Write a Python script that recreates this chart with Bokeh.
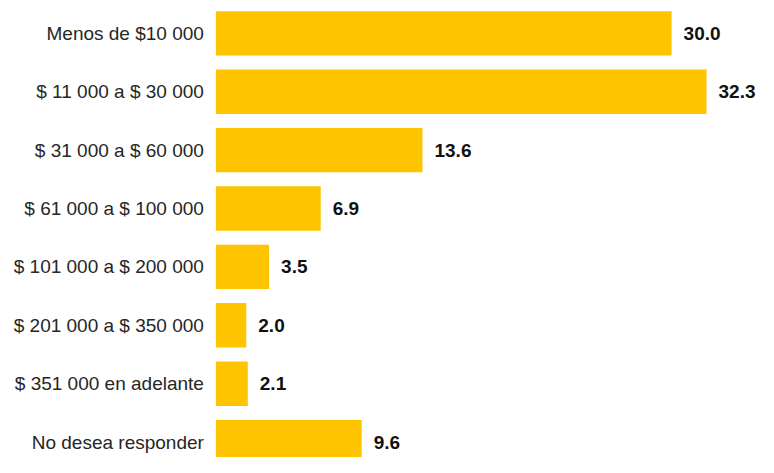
from bokeh.plotting import figure
from bokeh.models import ColumnDataSource, Range1d
from bokeh.core.properties import value
from bokeh.embed import file_html
from bokeh.resources import INLINE

categories = [
    "Menos de $10 000",
    "$ 11 000 a $ 30 000",
    "$ 31 000 a $ 60 000",
    "$ 61 000 a $ 100 000",
    "$ 101 000 a $ 200 000",
    "$ 201 000 a $ 350 000",
    "$ 351 000 en adelante",
    "No desea responder",
]
values = [30.0, 32.3, 13.6, 6.9, 3.5, 2.0, 2.1, 9.6]
value_labels = ["30.0", "32.3", "13.6", "6.9", "3.5", "2.0", "2.1", "9.6"]

ypos = list(range(len(categories)))
src = ColumnDataSource(dict(y=ypos, v=values, cat=categories, lab=value_labels,
                            zero=[0] * len(values)))

W, H = 758, 457
px_per_unit = 15.19
x0_px = 215.4
pitch = 58.39
top_px = 32.85

p = figure(width=W, height=H, output_backend="svg", toolbar_location=None,
           x_range=Range1d(-x0_px / px_per_unit, (W - x0_px) / px_per_unit),
           y_range=Range1d((H - top_px) / pitch, -top_px / pitch),
           min_border=0, outline_line_color=None)
p.axis.visible = False
p.grid.visible = False
p.background_fill_color = "white"
p.border_fill_color = "white"

p.hbar(y="y", left=0, right="v", height=0.76, source=src,
       fill_color="#FFC400", line_color=None)

p.text(x="zero", y="y", text="cat", source=src, x_offset=-12,
       text_align="right", text_baseline="middle",
       text_font=value("Liberation Sans"), text_font_size="19px",
       text_color="#262626")

p.text(x="v", y="y", text="lab", source=src, x_offset=12,
       text_align="left", text_baseline="middle",
       text_font=value("Liberation Sans"), text_font_size="19px",
       text_font_style="bold", text_color="#111111")

open("out.html", "w").write(file_html(p, INLINE))
